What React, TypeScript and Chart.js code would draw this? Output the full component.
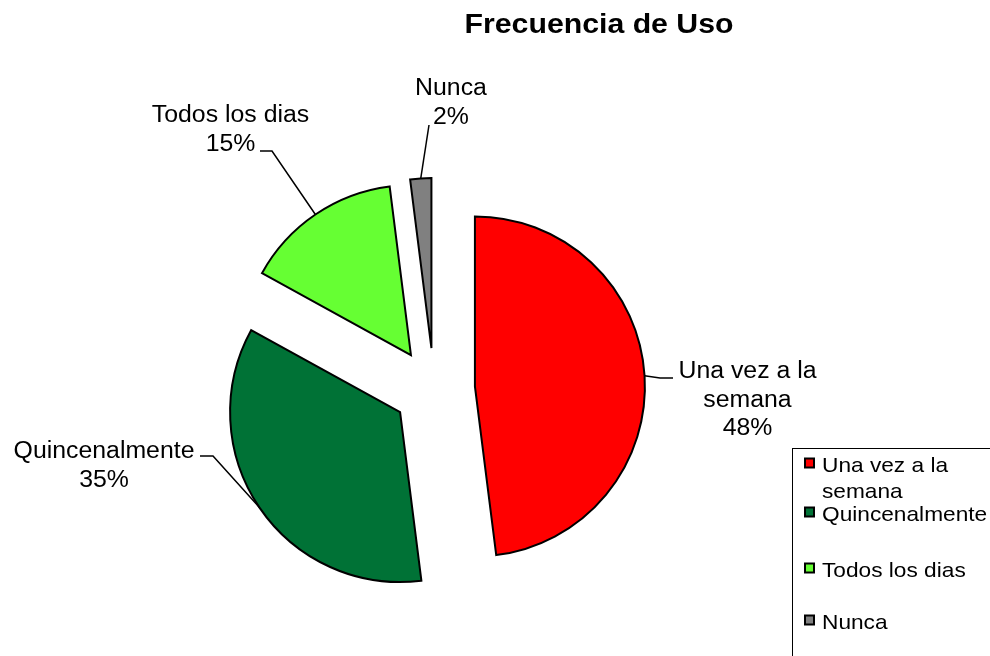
import React, { useEffect, useRef } from "react";
import { Chart, registerables } from "chart.js";

Chart.register(...registerables);

// ---- data ----
const categories = ["Una vez a la semana", "Quincenalmente", "Todos los dias", "Nunca"];
const values = [48, 35, 15, 2];
const colors = ["#FF0000", "#007236", "#66FF33", "#808080"];
const chartTitle = "Frecuencia de Uso";

// label text lines (category part), percentage appended from data
const labelLines = [["Una vez a la", "semana"], ["Quincenalmente"], ["Todos los dias"], ["Nunca"]];
const legendLines = [["Una vez a la", "semana"], ["Quincenalmente"], ["Todos los dias"], ["Nunca"]];

// ---- layout (text placement) ----
const FONT = "'Liberation Sans', Arial, sans-serif";
const SX = 1.08; // horizontal text stretch of the reference
const EXPLODE = 41;
const RADIUS = 170;
const labelLayout = [
  { cx: 747.5, y0: 378, anchor: [673, 378], elbow: [660, 378] },
  { cx: 104, y0: 458, anchor: [200, 456], elbow: [213, 456] },
  { cx: 230.5, y0: 122, anchor: [260, 151], elbow: [272, 151] },
  { cx: 451, y0: 95, anchor: [429, 125], elbow: [429, 125] },
];
const LINE_H = 28.5;
const legendRowsY = [463, 512, 568, 620];

function stretchedText(ctx: CanvasRenderingContext2D, text: string, x: number, y: number, align: CanvasTextAlign) {
  ctx.save();
  ctx.translate(x, y);
  ctx.scale(SX, 1);
  ctx.textAlign = align;
  ctx.textBaseline = "alphabetic";
  ctx.fillText(text, 0, 0);
  ctx.restore();
}

const explodePlugin = {
  id: "explode",
  afterDatasetsUpdate(chart: any) {
    const meta = chart.getDatasetMeta(0);
    meta.data.forEach((arc: any) => {
      const mid = (arc.startAngle + arc.endAngle) / 2;
      arc.x += Math.cos(mid) * EXPLODE;
      arc.y += Math.sin(mid) * EXPLODE;
    });
  },
};

const annotatePlugin = {
  id: "annotate",
  afterDraw(chart: any) {
    const ctx: CanvasRenderingContext2D = chart.ctx;
    const meta = chart.getDatasetMeta(0);
    const total = values.reduce((a, b) => a + b, 0);
    ctx.save();
    // title
    ctx.fillStyle = "#000";
    ctx.font = `bold 28px ${FONT}`;
    stretchedText(ctx, chartTitle, 599, 33, "center");

    // data labels with leader lines
    meta.data.forEach((arc: any, i: number) => {
      const mid = (arc.startAngle + arc.endAngle) / 2;
      const px = arc.x + Math.cos(mid) * arc.outerRadius;
      const py = arc.y + Math.sin(mid) * arc.outerRadius;
      const L = labelLayout[i];
      ctx.beginPath();
      ctx.strokeStyle = "#000";
      ctx.lineWidth = 1.5;
      ctx.moveTo(px, py);
      ctx.lineTo(L.elbow[0], L.elbow[1]);
      ctx.lineTo(L.anchor[0], L.anchor[1]);
      ctx.stroke();
      const lines = [...labelLines[i], Math.round((values[i] / total) * 100) + "%"];
      ctx.font = `23px ${FONT}`;
      ctx.fillStyle = "#000";
      lines.forEach((t, k) => stretchedText(ctx, t, L.cx, L.y0 + k * LINE_H, "center"));
    });

    // legend
    ctx.strokeStyle = "#000";
    ctx.lineWidth = 1;
    ctx.strokeRect(792.5, 448.5, 300, 300);
    ctx.font = `21px ${FONT}`;
    categories.forEach((_, i) => {
      const cy = legendRowsY[i];
      ctx.fillStyle = colors[i];
      ctx.fillRect(805, cy - 4.5, 9, 9);
      ctx.lineWidth = 2;
      ctx.strokeStyle = "#000";
      ctx.strokeRect(805, cy - 4.5, 9, 9);
      ctx.fillStyle = "#000";
      legendLines[i].forEach((t, k) => stretchedText(ctx, t, 822, cy + 8.5 + k * 26, "left"));
    });
    ctx.restore();
  },
};

export default function App() {
  const ref = useRef<HTMLCanvasElement | null>(null);
  useEffect(() => {
    if (!ref.current) return;
    const chart = new Chart(ref.current, {
      type: "pie",
      data: {
        labels: categories,
        datasets: [
          {
            data: values,
            backgroundColor: colors,
            borderColor: "#000",
            borderWidth: 2,
            borderJoinStyle: "miter",
            radius: RADIUS,
          } as any,
        ],
      },
      options: {
        animation: false,
        responsive: false,
        events: [],
        layout: { padding: { left: 100, right: 222, top: 200, bottom: 78 } },
        plugins: {
          legend: { display: false },
          title: { display: false },
          tooltip: { enabled: false },
        },
      },
      plugins: [explodePlugin, annotatePlugin],
    });
    return () => chart.destroy();
  }, []);
  return (
    <div style={{ position: "absolute", left: 0, top: 0, width: 990, height: 656, background: "#fff" }}>
      <canvas ref={ref} width={990} height={656} style={{ width: 990, height: 656, display: "block" }} />
    </div>
  );
}
